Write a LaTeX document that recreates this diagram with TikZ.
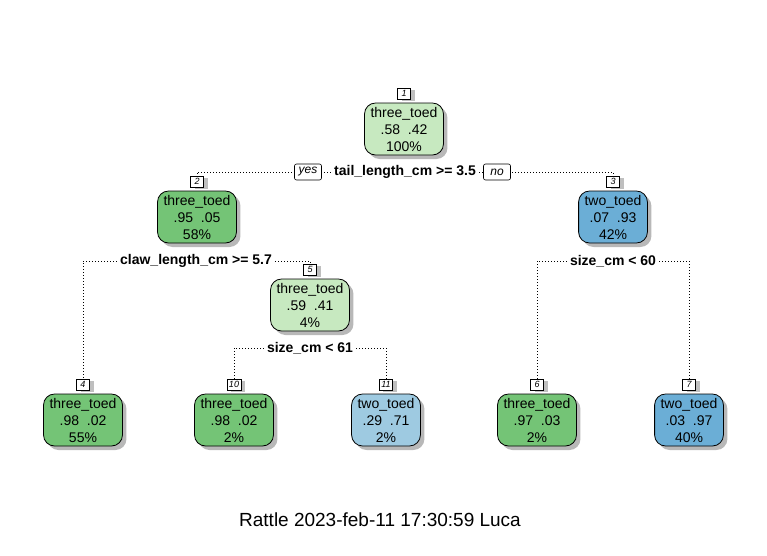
\documentclass[tikz,border=0pt]{standalone}
\usepackage{fontspec}
\setmainfont{Liberation Sans}
\usetikzlibrary{positioning,shadows}

\definecolor{lightgreen}{HTML}{C7E9C0}
\definecolor{darkgreen}{HTML}{74C476}
\definecolor{darkblue}{HTML}{6BAED6}
\definecolor{lightblue}{HTML}{9ECAE1}

\tikzset{
    treebox/.style={draw, line width=0.8pt, rounded corners=11pt, align=center,
        inner xsep=6pt, inner ysep=1pt, minimum height=52pt,
        font=\fontsize{14}{17}\selectfont,
        drop shadow={shadow xshift=4pt, shadow yshift=-4pt, fill=black!28, opacity=1}},
    nodenum/.style={draw, fill=white, line width=0.6pt, inner xsep=2pt, inner ysep=1pt,
        minimum width=13pt, minimum height=11pt, font=\fontsize{9}{9}\selectfont\itshape,
        drop shadow={shadow xshift=4pt, shadow yshift=-2pt, fill=black!25, opacity=1}},
    splitlabel/.style={inner sep=3pt, font=\fontsize{14}{14}\selectfont\bfseries},
    answer/.style={draw, fill=white, line width=0.6pt, rounded corners=2pt, inner xsep=4pt,
        minimum width=27pt, minimum height=16pt, font=\fontsize{12}{12}\selectfont\itshape},
    link/.style={dash pattern=on 1pt off 2pt, line width=1pt}
}

\begin{document}
\begin{tikzpicture}[x=1pt, y=-1pt]
        \useasboundingbox (0,0) rectangle (767,555);

        \newcommand{\rowone}{129}
        \newcommand{\rowtwo}{217}
        \newcommand{\rowthree}{305}
        \newcommand{\rowleaf}{420}

        \node [treebox, fill=lightgreen] (b1) at (404, \rowone) {three\_toed\\.58~~.42\\100\%};
        \node [treebox, fill=darkgreen] (b2) at (197, \rowtwo) {three\_toed\\.95~~.05\\58\%};
        \node [treebox, fill=darkblue] (b3) at (613, \rowtwo) {two\_toed\\.07~~.93\\42\%};
        \node [treebox, fill=lightgreen] (b5) at (310, \rowthree) {three\_toed\\.59~~.41\\4\%};
        \node [treebox, fill=darkgreen] (b4) at (83, \rowleaf) {three\_toed\\.98~~.02\\55\%};
        \node [treebox, fill=darkgreen] (b10) at (234, \rowleaf) {three\_toed\\.98~~.02\\2\%};
        \node [treebox, fill=lightblue] (b11) at (386, \rowleaf) {two\_toed\\.29~~.71\\2\%};
        \node [treebox, fill=darkgreen] (b6) at (537, \rowleaf) {three\_toed\\.97~~.03\\2\%};
        \node [treebox, fill=darkblue] (b7) at (689, \rowleaf) {two\_toed\\.03~~.97\\40\%};

        \foreach \n in {1,2,3,4,5,6,7,10,11}
            \node [nodenum, above=3pt of b\n] (n\n) {\n};

        \node [splitlabel] (s1) at (405, 172) {tail\_length\_cm >= 3.5};
        \node [splitlabel] (s2) at (196, 261) {claw\_length\_cm >= 5.7};
        \node [splitlabel] (s3) at (613, 261) {size\_cm < 60};
        \node [splitlabel] (s5) at (310, 348) {size\_cm < 61};

        \draw [link] (s1.west) -| (n2.north);
        \draw [link] (s1.east) -| (n3.north);
        \draw [link] (s2.west) -| (n4.north);
        \draw [link] (s2.east) -| (n5.north);
        \draw [link] (s3.west) -| (n6.north);
        \draw [link] (s3.east) -| (n7.north);
        \draw [link] (s5.west) -| (n10.north);
        \draw [link] (s5.east) -| (n11.north);

        \node [answer] (yes) at (308, 172) {yes};
        \node [answer] (no) at (497, 172) {no};

        \node [font=\fontsize{19}{19}\selectfont] (title) at (380, 520) {Rattle 2023-feb-11 17:30:59 Luca};

    \end{tikzpicture}
\end{document}
